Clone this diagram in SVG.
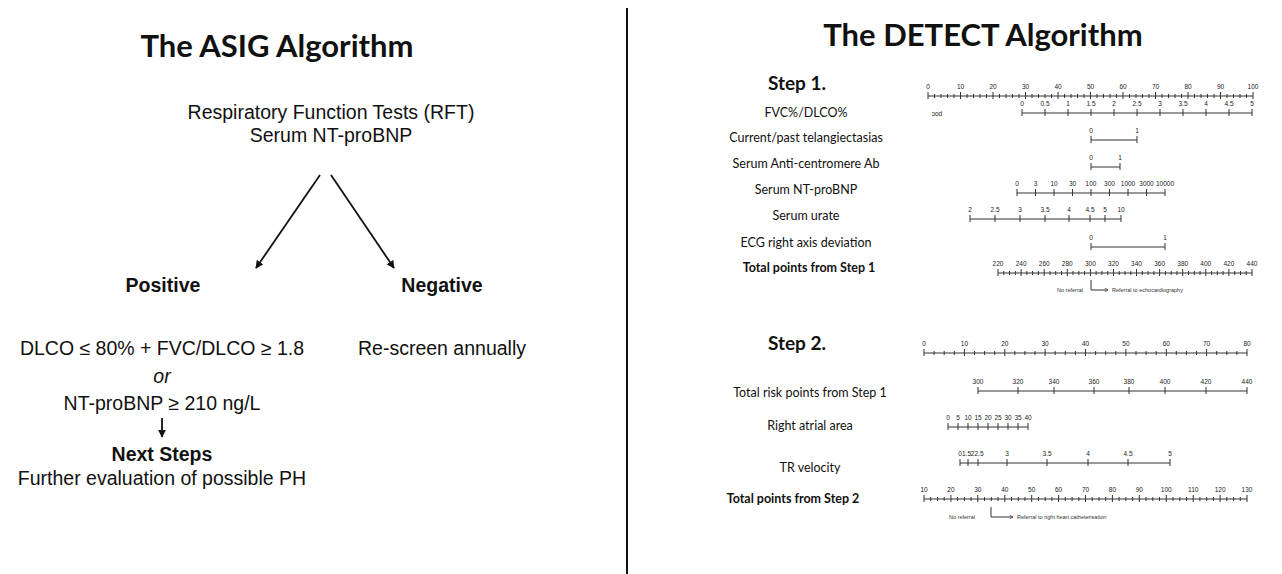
<svg xmlns="http://www.w3.org/2000/svg" width="1282" height="574" viewBox="0 0 1282 574">
<defs>
<marker id="ah" viewBox="0 0 10 10" refX="9" refY="5" markerWidth="8" markerHeight="8" markerUnits="userSpaceOnUse" orient="auto"><path d="M0 0L10 5L0 10z" fill="#111"/></marker>
<marker id="sa" viewBox="0 0 10 10" refX="9" refY="5" markerWidth="4" markerHeight="4" markerUnits="userSpaceOnUse" orient="auto"><path d="M0 0L10 5L0 10" fill="none" stroke="#333" stroke-width="1.5"/></marker>
<style>
.ttl{font-family:Lato,"Open Sans",sans-serif;font-weight:bold;font-size:31px;fill:#111;text-anchor:middle}
.ar{font-family:"Liberation Sans",Arial,sans-serif;font-size:19.5px;fill:#111;text-anchor:middle}
.arb{font-family:"Liberation Sans",Arial,sans-serif;font-size:19.5px;font-weight:bold;fill:#111;text-anchor:middle}
.it{font-style:italic}
.step{font-family:Lato,"Open Sans",sans-serif;font-weight:bold;font-size:19px;fill:#111;text-anchor:middle}
.lab{font-family:Lato,"Open Sans",sans-serif;font-size:12.5px;fill:#111;text-anchor:middle}
.labb{font-family:Lato,"Open Sans",sans-serif;font-size:12.5px;font-weight:bold;fill:#111;text-anchor:middle}
.tk{font-family:"Liberation Sans",Arial,sans-serif;font-size:6.5px;fill:#222;text-anchor:middle}
.sm{font-family:"Liberation Sans",Arial,sans-serif;font-size:5.5px;fill:#333}
.sc{fill:none;stroke:#333;stroke-width:1}
.cn{fill:none;stroke:#111;stroke-width:1.8}
</style>
</defs>
<rect width="1282" height="574" fill="#fff"/>

<g id="divider"><line x1="627" y1="8" x2="627" y2="574" stroke="#111" stroke-width="2"/></g>

<g id="asig-title"><text class="ttl" x="277" y="57">The ASIG Algorithm</text></g>
<g id="asig-start">
<text class="ar" x="331" y="119">Respiratory Function Tests (RFT)</text>
<text class="ar" x="331" y="142">Serum NT-proBNP</text>
</g>
<g id="asig-positive"><text class="arb" x="163" y="292">Positive</text></g>
<g id="asig-negative"><text class="arb" x="442" y="292">Negative</text></g>
<g id="asig-pos-criteria">
<text class="ar" x="162" y="355">DLCO ≤ 80% + FVC/DLCO ≥ 1.8</text>
<text class="ar it" x="162" y="383">or</text>
<text class="ar" x="162" y="410">NT-proBNP ≥ 210 ng/L</text>
</g>
<g id="asig-next">
<text class="arb" x="162" y="461">Next Steps</text>
<text class="ar" x="162" y="485">Further evaluation of possible PH</text>
</g>
<g id="asig-neg-action"><text class="ar" x="442" y="355">Re-screen annually</text></g>

<g id="connectors">
<line class="cn" x1="320" y1="175" x2="256" y2="268" marker-end="url(#ah)"/>
<line class="cn" x1="331" y1="175" x2="394" y2="268" marker-end="url(#ah)"/>
<line class="cn" x1="162" y1="418" x2="162" y2="437" marker-end="url(#ah)"/>
</g>

<g id="detect-title"><text class="ttl" x="983" y="46">The DETECT Algorithm</text></g>

<g id="step1">
<text class="step" x="797" y="90">Step 1.</text>
<!-- points 0-100 -->
<path class="sc" d="M928 96H1253M928 92v7M960.5 92v7M993 92v7M1025.5 92v7M1058 92v7M1090.5 92v7M1123 92v7M1155.5 92v7M1188 92v7M1220.5 92v7M1253 92v7M934.5 94v4M941 94v4M947.5 94v4M954 94v4M967 94v4M973.5 94v4M980 94v4M986.5 94v4M999.5 94v4M1006 94v4M1012.5 94v4M1019 94v4M1032 94v4M1038.5 94v4M1045 94v4M1051.5 94v4M1064.5 94v4M1071 94v4M1077.5 94v4M1084 94v4M1097 94v4M1103.5 94v4M1110 94v4M1116.5 94v4M1129.5 94v4M1136 94v4M1142.5 94v4M1149 94v4M1162 94v4M1168.5 94v4M1175 94v4M1181.5 94v4M1194.5 94v4M1201 94v4M1207.5 94v4M1214 94v4M1227 94v4M1233.5 94v4M1240 94v4M1246.5 94v4"/>
<text class="tk" y="89"><tspan x="928">0</tspan><tspan x="960.5">10</tspan><tspan x="993">20</tspan><tspan x="1025.5">30</tspan><tspan x="1058">40</tspan><tspan x="1090.5">50</tspan><tspan x="1123">60</tspan><tspan x="1155.5">70</tspan><tspan x="1188">80</tspan><tspan x="1220.5">90</tspan><tspan x="1253">100</tspan></text>
<!-- FVC/DLCO -->
<text class="lab" x="806" y="117">FVC%/DLCO%</text>
<text class="tk" x="937" y="116">ɔod</text>
<path class="sc" d="M1022 113H1252M1022 109v7M1045 109v7M1068 109v7M1091 109v7M1114 109v7M1137 109v7M1160 109v7M1183 109v7M1206 109v7M1229 109v7M1252 109v7"/>
<text class="tk" y="106"><tspan x="1022">0</tspan><tspan x="1045">0.5</tspan><tspan x="1068">1</tspan><tspan x="1091">1.5</tspan><tspan x="1114">2</tspan><tspan x="1137">2.5</tspan><tspan x="1160">3</tspan><tspan x="1183">3.5</tspan><tspan x="1206">4</tspan><tspan x="1229">4.5</tspan><tspan x="1252">5</tspan></text>
<!-- telangiectasias -->
<text class="lab" x="806" y="142">Current/past telangiectasias</text>
<path class="sc" d="M1091 140H1137M1091 136v7M1137 136v7"/>
<text class="tk" y="133"><tspan x="1091">0</tspan><tspan x="1137">1</tspan></text>
<!-- anti-centromere -->
<text class="lab" x="806" y="168">Serum Anti-centromere Ab</text>
<path class="sc" d="M1091 167H1120M1091 163v7M1120 163v7"/>
<text class="tk" y="160"><tspan x="1091">0</tspan><tspan x="1120">1</tspan></text>
<!-- NT-proBNP -->
<text class="lab" x="806" y="194">Serum NT-proBNP</text>
<path class="sc" d="M1017 193H1165M1017 189v7M1035.5 189v7M1054 189v7M1072.5 189v7M1091 189v7M1109.5 189v7M1128 189v7M1146.5 189v7M1165 189v7"/>
<text class="tk" y="186"><tspan x="1017">0</tspan><tspan x="1035.5">3</tspan><tspan x="1054">10</tspan><tspan x="1072.5">30</tspan><tspan x="1091">100</tspan><tspan x="1109.5">300</tspan><tspan x="1128">1000</tspan><tspan x="1146.5">3000</tspan><tspan x="1165">10000</tspan></text>
<!-- urate -->
<text class="lab" x="806" y="220">Serum urate</text>
<path class="sc" d="M970 219H1121M970 215v7M995 215v7M1020 215v7M1045 215v7M1069 215v7M1090 215v7M1105 215v7M1121 215v7"/>
<text class="tk" y="212"><tspan x="970">2</tspan><tspan x="995">2.5</tspan><tspan x="1020">3</tspan><tspan x="1045">3.5</tspan><tspan x="1069">4</tspan><tspan x="1090">4.5</tspan><tspan x="1105">5</tspan><tspan x="1121">10</tspan></text>
<!-- ECG -->
<text class="lab" x="806" y="247">ECG right axis deviation</text>
<path class="sc" d="M1091 247H1165M1091 243v7M1165 243v7"/>
<text class="tk" y="240"><tspan x="1091">0</tspan><tspan x="1165">1</tspan></text>
<!-- total step 1 -->
<text class="labb" x="809" y="272">Total points from Step 1</text>
<path class="sc" d="M998 273H1252M998 269v7M1021.1 269v7M1044.2 269v7M1067.3 269v7M1090.4 269v7M1113.5 269v7M1136.5 269v7M1159.6 269v7M1182.7 269v7M1205.8 269v7M1228.9 269v7M1252 269v7M1003.8 271v4M1009.5 271v4M1015.3 271v4M1026.9 271v4M1032.6 271v4M1038.4 271v4M1050 271v4M1055.7 271v4M1061.5 271v4M1073 271v4M1078.8 271v4M1084.6 271v4M1096.1 271v4M1101.9 271v4M1107.7 271v4M1119.2 271v4M1125 271v4M1130.8 271v4M1142.3 271v4M1148.1 271v4M1153.9 271v4M1165.4 271v4M1171.2 271v4M1176.9 271v4M1188.5 271v4M1194.3 271v4M1200 271v4M1211.6 271v4M1217.4 271v4M1223.1 271v4M1234.7 271v4M1240.5 271v4M1246.2 271v4"/>
<text class="tk" y="266"><tspan x="998">220</tspan><tspan x="1021.1">240</tspan><tspan x="1044.2">260</tspan><tspan x="1067.3">280</tspan><tspan x="1090.4">300</tspan><tspan x="1113.5">320</tspan><tspan x="1136.5">340</tspan><tspan x="1159.6">360</tspan><tspan x="1182.7">380</tspan><tspan x="1205.8">400</tspan><tspan x="1228.9">420</tspan><tspan x="1252">440</tspan></text>
<text class="sm" x="1083" y="292" text-anchor="end">No referral</text>
<path class="sc" d="M1091 280V290H1108" marker-end="url(#sa)"/>
<text class="sm" x="1112" y="292">Referral to echocardiography</text>
</g>

<g id="step2">
<text class="step" x="797" y="350">Step 2.</text>
<path class="sc" d="M924 353H1247M924 349v7M964.4 349v7M1004.8 349v7M1045.1 349v7M1085.5 349v7M1125.9 349v7M1166.3 349v7M1206.6 349v7M1247 349v7M934.1 351v4M944.2 351v4M954.3 351v4M974.5 351v4M984.6 351v4M994.7 351v4M1014.8 351v4M1024.9 351v4M1035 351v4M1055.2 351v4M1065.3 351v4M1075.4 351v4M1095.6 351v4M1105.7 351v4M1115.8 351v4M1136 351v4M1146.1 351v4M1156.2 351v4M1176.3 351v4M1186.4 351v4M1196.5 351v4M1216.7 351v4M1226.8 351v4M1236.9 351v4"/>
<text class="tk" y="346"><tspan x="924">0</tspan><tspan x="964.4">10</tspan><tspan x="1004.8">20</tspan><tspan x="1045.1">30</tspan><tspan x="1085.5">40</tspan><tspan x="1125.9">50</tspan><tspan x="1166.3">60</tspan><tspan x="1206.6">70</tspan><tspan x="1247">80</tspan></text>
<!-- total risk points -->
<text class="lab" x="810" y="397">Total risk points from Step 1</text>
<path class="sc" d="M978 391H1247M978 387v7M1018 387v7M1054 387v7M1094 387v7M1129 387v7M1165 387v7M1206 387v7M1247 387v7"/>
<text class="tk" y="384"><tspan x="978">300</tspan><tspan x="1018">320</tspan><tspan x="1054">340</tspan><tspan x="1094">360</tspan><tspan x="1129">380</tspan><tspan x="1165">400</tspan><tspan x="1206">420</tspan><tspan x="1247">440</tspan></text>
<!-- RA area -->
<text class="lab" x="810" y="430">Right atrial area</text>
<path class="sc" d="M948 427H1028M948 423v7M958 423v7M968 423v7M978 423v7M988 423v7M998 423v7M1008 423v7M1018 423v7M1028 423v7"/>
<text class="tk" y="420"><tspan x="948">0</tspan><tspan x="958">5</tspan><tspan x="968">10</tspan><tspan x="978">15</tspan><tspan x="988">20</tspan><tspan x="998">25</tspan><tspan x="1008">30</tspan><tspan x="1018">35</tspan><tspan x="1028">40</tspan></text>
<!-- TR velocity -->
<text class="lab" x="810" y="472">TR velocity</text>
<path class="sc" d="M960 463H1170M960 459v7M968 459v7M978 459v7M1007 459v7M1047 459v7M1088 459v7M1128 459v7M1170 459v7"/>
<text class="tk" y="456"><tspan x="960">0</tspan><tspan x="966.5">1.5</tspan><tspan x="972.5">2</tspan><tspan x="979">2.5</tspan><tspan x="1007">3</tspan><tspan x="1047">3.5</tspan><tspan x="1088">4</tspan><tspan x="1128">4.5</tspan><tspan x="1170">5</tspan></text>
<!-- total step 2 -->
<text class="labb" x="793" y="503">Total points from Step 2</text>
<path class="sc" d="M924 499H1247M924 495v7M950.9 495v7M977.8 495v7M1004.8 495v7M1031.7 495v7M1058.6 495v7M1085.5 495v7M1112.4 495v7M1139.3 495v7M1166.3 495v7M1193.2 495v7M1220.1 495v7M1247 495v7M930.7 497v4M937.5 497v4M944.2 497v4M957.6 497v4M964.4 497v4M971.1 497v4M984.5 497v4M991.3 497v4M998 497v4M1011.5 497v4M1018.3 497v4M1025 497v4M1038.4 497v4M1045.2 497v4M1051.9 497v4M1065.3 497v4M1072.1 497v4M1078.8 497v4M1092.2 497v4M1099 497v4M1105.7 497v4M1119.1 497v4M1125.9 497v4M1132.6 497v4M1146 497v4M1152.8 497v4M1159.5 497v4M1173 497v4M1179.8 497v4M1186.5 497v4M1199.9 497v4M1206.7 497v4M1213.4 497v4M1226.8 497v4M1233.6 497v4M1240.3 497v4"/>
<text class="tk" y="492"><tspan x="924">10</tspan><tspan x="950.9">20</tspan><tspan x="977.8">30</tspan><tspan x="1004.8">40</tspan><tspan x="1031.7">50</tspan><tspan x="1058.6">60</tspan><tspan x="1085.5">70</tspan><tspan x="1112.4">80</tspan><tspan x="1139.3">90</tspan><tspan x="1166.3">100</tspan><tspan x="1193.2">110</tspan><tspan x="1220.1">120</tspan><tspan x="1247">130</tspan></text>
<text class="sm" x="975" y="519" text-anchor="end">No referral</text>
<path class="sc" d="M991 507V517H1013" marker-end="url(#sa)"/>
<text class="sm" x="1017" y="519">Referral to right heart catheterisation</text>
</g>
</svg>
